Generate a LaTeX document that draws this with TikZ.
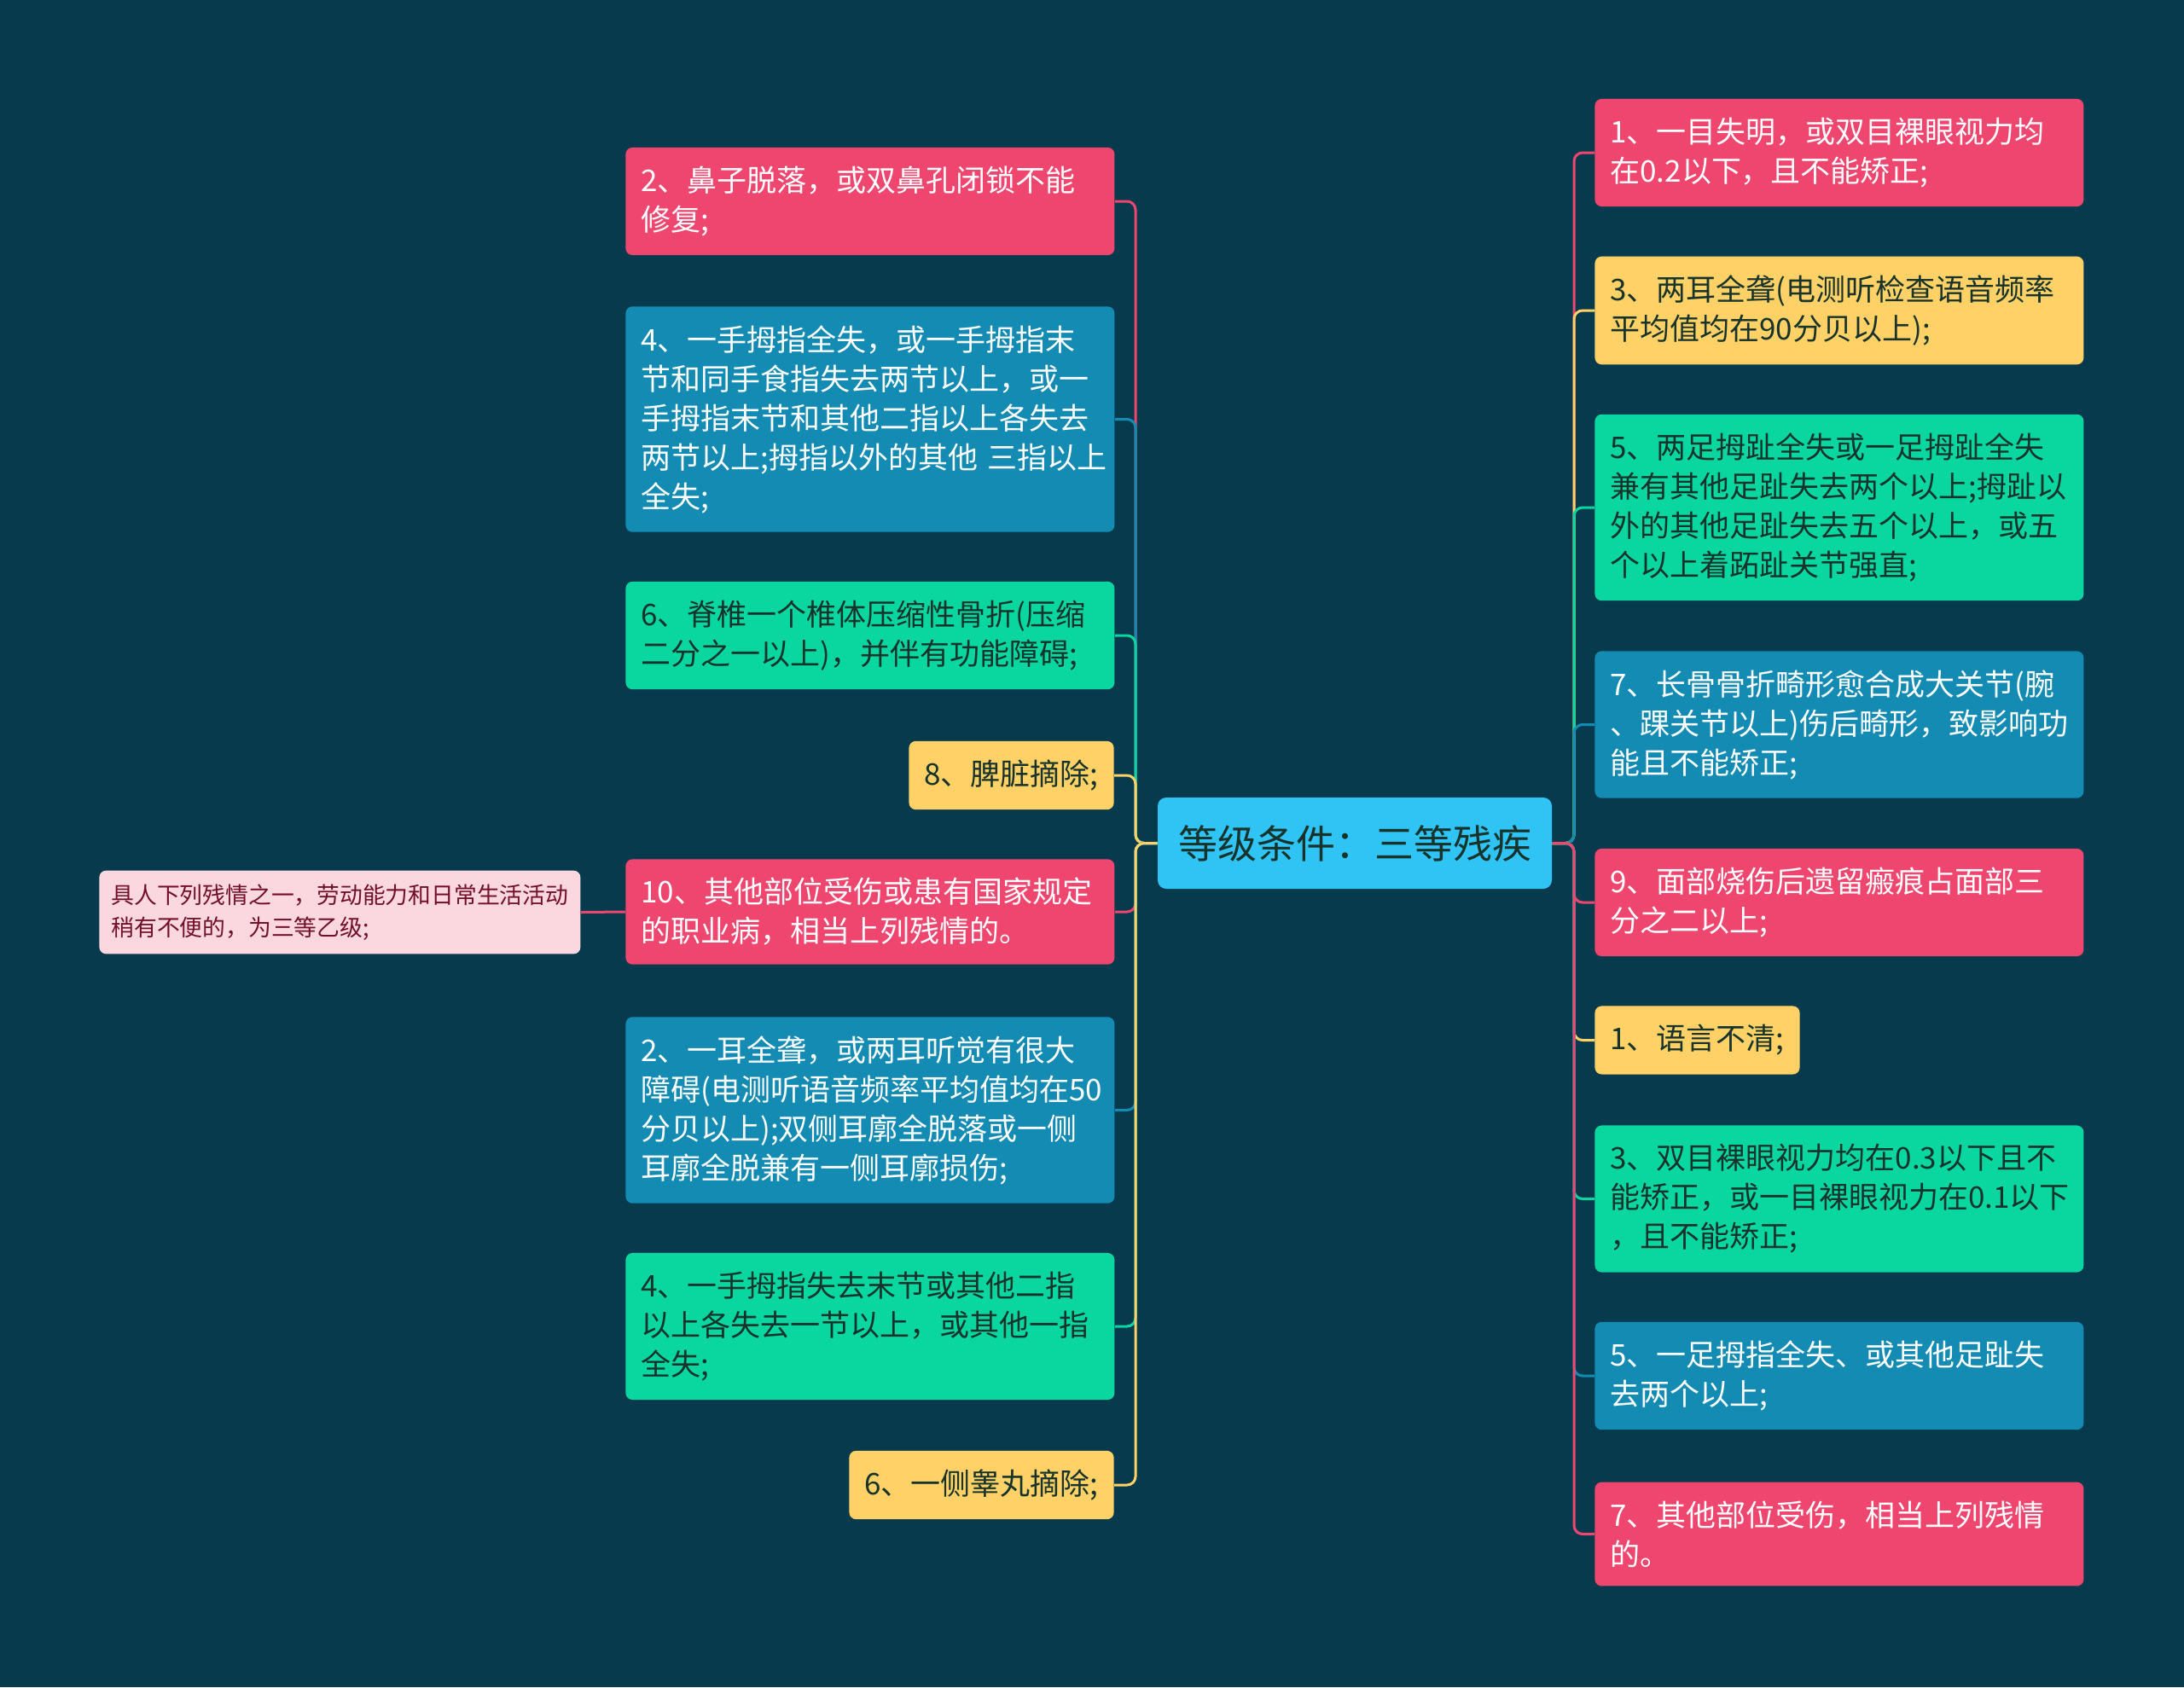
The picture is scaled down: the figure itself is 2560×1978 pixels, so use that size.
\documentclass[tikz,border=0pt]{standalone}
\usepackage{fontspec}
\setmainfont{Noto Sans CJK SC}
\definecolor{bgC}{HTML}{073A4D}
\definecolor{pinkC}{HTML}{EF4670}
\definecolor{blueC}{HTML}{138BB3}
\definecolor{greenC}{HTML}{0AD6A0}
\definecolor{yellowC}{HTML}{FFD166}
\definecolor{rootC}{HTML}{2FC4F4}
\definecolor{paleC}{HTML}{FBD8E0}
\definecolor{inkC}{HTML}{17332B}
\definecolor{wineC}{HTML}{72102A}

\begin{document}
\begin{tikzpicture}[x=0.5pt,y=-0.5pt]
\tikzstyle{lp} = [color = pinkC]
\tikzstyle{lb} = [color = blueC]
\tikzstyle{lg} = [color = greenC]
\tikzstyle{ly} = [color = yellowC]
\tikzstyle{item} = [rounded corners=4pt, inner xsep=9pt, inner ysep=11pt, align=left,
  font=\fontsize{17.5pt}{23pt}\selectfont]
\tikzstyle{wide} = [item, text width=268.5pt]
\tikzstyle{np} = [fill=pinkC, text=white]
\tikzstyle{nb} = [fill=blueC, text=white]
\tikzstyle{ng} = [fill=greenC, text=inkC]
\tikzstyle{ny} = [fill=yellowC, text=inkC]

\fill[bgC] (0,0) rectangle (2560,1978);
\useasboundingbox (0,0) rectangle (2560,1978);

\draw(1588,988.5) node[rounded corners=5pt, fill=rootC, text=inkC, inner xsep=12pt,
  minimum height=53.5pt, font=\fontsize{23pt}{28pt}\selectfont] (root) {等级条件：三等残疾};

\draw(733,236)    node[wide,np,anchor=west] (l1) {2、鼻子脱落，或双鼻孔闭锁不能\\修复;};
\draw(733,491.5)  node[wide,nb,anchor=west] (l2) {4、一手拇指全失，或一手拇指末\\节和同手食指失去两节以上，或一\\手拇指末节和其他二指以上各失去\\两节以上;拇指以外的其他~三指以上\\全失;};
\draw(733,745)    node[wide,ng,anchor=west] (l3) {6、脊椎一个椎体压缩性骨折(压缩\\二分之一以上)，并伴有功能障碍;};
\draw(1306,909)   node[item,ny,anchor=east] (l4) {8、脾脏摘除;};
\draw(733,1069)   node[wide,np,anchor=west] (l5) {10、其他部位受伤或患有国家规定\\的职业病，相当上列残情的。};
\draw(733,1301.5) node[wide,nb,anchor=west] (l6) {2、一耳全聋，或两耳听觉有很大\\障碍(电测听语音频率平均值均在50\\分贝以上);双侧耳廓全脱落或一侧\\耳廓全脱兼有一侧耳廓损伤;};
\draw(733,1555)   node[wide,ng,anchor=west] (l7) {4、一手拇指失去末节或其他二指\\以上各失去一节以上，或其他一指\\全失;};
\draw(1306,1741)  node[item,ny,anchor=east] (l8) {6、一侧睾丸摘除;};

\draw(116,1069.5) node[rounded corners=4pt, fill=paleC, text=wineC, anchor=west, align=left,
  inner xsep=7pt, inner ysep=8pt, font=\fontsize{13.4pt}{19pt}\selectfont] (note)
  {具人下列残情之一，劳动能力和日常生活活动\\稍有不便的，为三等乙级;};

\draw(1869,179)    node[wide,np,anchor=west] (r1) {1、一目失明，或双目裸眼视力均\\在0.2以下，且不能矫正;};
\draw(1869,364)    node[wide,ny,anchor=west] (r2) {3、两耳全聋(电测听检查语音频率\\平均值均在90分贝以上);};
\draw(1869,595)    node[wide,ng,anchor=west] (r3) {5、两足拇趾全失或一足拇趾全失\\兼有其他足趾失去两个以上;拇趾以\\外的其他足趾失去五个以上，或五\\个以上着跖趾关节强直;};
\draw(1869,849.5)  node[wide,nb,anchor=west] (r4) {7、长骨骨折畸形愈合成大关节(腕\\、踝关节以上)伤后畸形，致影响功\\能且不能矫正;};
\draw(1869,1058)   node[wide,np,anchor=west] (r5) {9、面部烧伤后遗留瘢痕占面部三\\分之二以上;};
\draw(1869,1219.5) node[item,ny,anchor=west] (r6) {1、语言不清;};
\draw(1869,1405.5) node[wide,ng,anchor=west] (r7) {3、双目裸眼视力均在0.3以下且不\\能矫正，或一目裸眼视力在0.1以下\\，且不能矫正;};
\draw(1869,1613)   node[wide,nb,anchor=west] (r8) {5、一足拇指全失、或其他足趾失\\去两个以上;};
\draw(1869,1798.5) node[wide,np,anchor=west] (r9) {7、其他部位受伤，相当上列残情\\的。};

\coordinate (tl) at (1331,988.5);
\coordinate (tr) at (1845,988.5);

\begin{scope}[line width=1.5pt, rounded corners=5pt]
\draw[lp] (root.west) -- (tl) |- (l1.east);
\draw[lb] (root.west) -- (tl) |- (l2.east);
\draw[lg] (root.west) -- (tl) |- (l3.east);
\draw[ly] (root.west) -- (tl) |- (l4.east);
\draw[lp] (root.west) -- (tl) |- (l5.east);
\draw[lb] (root.west) -- (tl) |- (l6.east);
\draw[lg] (root.west) -- (tl) |- (l7.east);
\draw[ly] (root.west) -- (tl) |- (l8.east);
\draw[lp] (l5.west) -- (note.east);

\draw[lp] (root.east) -- (tr) |- (r1.west);
\draw[ly] (root.east) -- (tr) |- (r2.west);
\draw[lg] (root.east) -- (tr) |- (r3.west);
\draw[lb] (root.east) -- (tr) |- (r4.west);
\draw[lp] (root.east) -- (tr) |- (r5.west);
\draw[ly] (root.east) -- (tr) |- (r6.west);
\draw[lg] (root.east) -- (tr) |- (r7.west);
\draw[lb] (root.east) -- (tr) |- (r8.west);
\draw[lp] (root.east) -- (tr) |- (r9.west);
\end{scope}
\end{tikzpicture}
\end{document}
